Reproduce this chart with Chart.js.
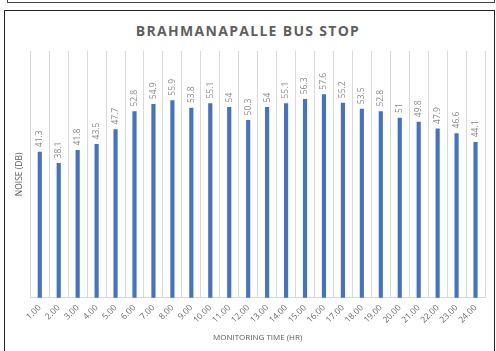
<!DOCTYPE html>
<html>
<head>
<meta charset="utf-8">
<script src="https://cdn.jsdelivr.net/npm/chart.js@4/dist/chart.umd.min.js"></script>
<style>
  html, body { margin: 0; padding: 0; background: #fff; }
  body { width: 496px; height: 351px; position: relative; overflow: hidden; }
  #prev { position: absolute; left: 7px; top: -10px; width: 486px; height: 11px; border: 1px solid #444; }
  #frame { position: absolute; left: 4px; top: 10px; width: 489px; height: 360px; border: 1.5px solid #222; }
  #title { position: absolute; left: 0; width: 496px; top: 21px; text-align: center;
           font: bold 14px "Open Sans", sans-serif; letter-spacing: 1.3px; color: #5f5f5f; }
  #wrap { position: absolute; left: 0; top: 0; width: 496px; height: 351px; }
</style>
</head>
<body>
<div id="prev"></div>
<div id="frame"></div>
<div id="title">BRAHMANAPALLE BUS STOP</div>
<div id="wrap"><canvas id="c" width="496" height="351"></canvas></div>
<script>
// Monitoring hours and measured noise levels
const hours = ["1.00","2.00","3.00","4.00","5.00","6.00","7.00","8.00","9.00","10.00","11.00","12.00",
               "13.00","14.00","15.00","16.00","17.00","18.00","19.00","20.00","21.00","22.00","23.00","24.00"];
const noiseDb = [41.3, 38.1, 41.8, 43.5, 47.7, 52.8, 54.9, 55.9, 53.8, 55.1, 54, 50.3,
                 54, 55.1, 56.3, 57.6, 55.2, 53.5, 52.8, 51, 49.8, 47.9, 46.6, 44.1];
const xTitle = "MONITORING TIME (HR)";
const yTitle = "NOISE (DB)";

// Vertical value labels above each bar
const barValueLabels = {
  id: 'barValueLabels',
  afterDatasetsDraw(chart) {
    const ctx = chart.ctx;
    const meta = chart.getDatasetMeta(0);
    ctx.save();
    ctx.font = '8.5px "Open Sans", sans-serif';
    ctx.fillStyle = '#8a8a8a';
    ctx.textAlign = 'left';
    ctx.textBaseline = 'middle';
    meta.data.forEach((bar, i) => {
      ctx.save();
      ctx.translate(bar.x, bar.y - 5);
      ctx.rotate(-Math.PI / 2);
      ctx.fillText(String(noiseDb[i]), 0, 0);
      ctx.restore();
    });
    ctx.restore();
  }
};

new Chart(document.getElementById('c'), {
  type: 'bar',
  data: {
    labels: hours,
    datasets: [{
      data: noiseDb,
      backgroundColor: '#4472C4',
      barThickness: 3.5
    }]
  },
  options: {
    responsive: false,
    animation: false,
    layout: { padding: { top: 51, left: 10, right: 11, bottom: 0 } },
    plugins: { legend: { display: false }, tooltip: { enabled: false } },
    scales: {
      x: {
        grid: { color: '#d9d9d9', drawTicks: false, offset: true },
        border: { color: '#d9d9d9' },
        ticks: {
          color: '#666666',
          font: { family: 'Open Sans', size: 8.5 },
          minRotation: 45, maxRotation: 45,
          padding: 5
        },
        title: {
          display: true, text: xTitle, color: '#595959',
          font: { family: 'Open Sans', size: 8 },
          padding: { top: 0, bottom: 8.6 }
        },
        afterFit(s) { s.height = 53.3; }
      },
      y: {
        min: 0, max: 70,
        grid: { display: false },
        border: { display: false },
        ticks: { display: false },
        title: {
          display: true, text: yTitle, color: '#595959',
          font: { family: 'Open Sans', size: 8.5 },
          padding: { top: 4.3, bottom: 0 }
        },
        afterFit(s) { s.width = 20.3; }
      }
    }
  },
  plugins: [barValueLabels]
});
</script>
</body>
</html>
